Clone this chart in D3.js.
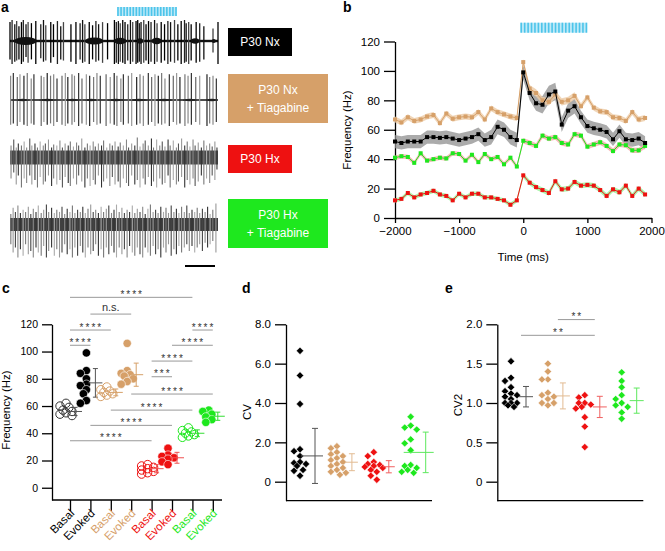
<!DOCTYPE html>
<html><head><meta charset="utf-8">
<script src="https://cdn.jsdelivr.net/npm/d3@7"></script>
<style>
body{margin:0;background:#fff}
svg{display:block;font-family:"Liberation Sans",Arial,Helvetica,sans-serif}
</style></head><body>
<svg id="fig" width="665" height="551"></svg>
<script>
// ================= DATA =================
// Panel a: spike traces, [time % of sweep, relative up amplitude, relative down amplitude]
const traceNx = [[0,.9,.8],[1,1,1],[2.3,.8,.9],[3.2,.95,.85],[4.3,.7,.8],[5.5,.9,1],[6.4,1,.9],[7.7,.8,.7],[8.7,.9,.95],[10.3,.85,.8],[12.4,.95,1],[14.8,.8,.75],[16.1,1,.9],[17.2,.75,.85],[19.6,.9,.95],[20.9,.8,.7],[22.8,.95,1],[24.4,.7,.8],[25.7,.9,.85],[29.3,.8,.9],[31.7,.9,1],[33.7,.85,.8],[34.9,1,.95],[36,.8,.9],[38.1,.9,1],[39.7,.75,.8],[41.3,.95,.9],[42.6,.8,.85],[44.5,.9,.95],[46.9,.85,.8],[50.2,1,1],[51.1,.9,.95],[52.1,.95,1],[53,.85,.9],[54.2,1,.95],[55.3,.9,1],[56.6,.8,.85],[57.9,1,1],[59,.9,.9],[60.6,.95,1],[61.4,1,.95],[62.2,.85,.9],[63,.9,1],[64.3,1,.95],[65.4,.8,.85],[66.6,.95,1],[67.8,.9,.9],[69.5,1,1],[70.7,.85,.9],[72.7,.9,.95],[74.3,.8,.85],[75.9,.95,1],[77.2,.9,.9],[79.1,1,.95],[80.7,.8,.85],[82.3,.95,1],[83.9,1,.95],[84.7,.85,.9],[85.9,.9,1],[87.1,.8,.85],[89.5,.9,.95],[91.2,.85,.9],[93.2,.7,.8],[97.6,.6,.5],[100,.9,1]];
const traceNxBursts = [[2,13,1],[36,45,.9],[50,56,.8],[61,64,.7],[68,73,.8],[87,91,.7],[97,99,.5]];
const traceNxT = [[.3,.9,.95],[1.6,1,.9],[3.5,.85,1],[4.8,.95,.85],[6.7,.9,.95],[8.3,1,1],[10.2,.8,.9],[11.5,.95,.95],[15,.9,1],[16.3,.85,.85],[17.9,1,.95],[19.5,.9,.9],[21,.95,1],[22.6,.8,.85],[25,.9,.95],[26.6,1,1],[27.8,.85,.9],[29.8,.95,.95],[31,.9,.85],[33,1,1],[34.6,.8,.9],[36.7,.95,.95],[38.3,.9,1],[40.2,.85,.85],[41.8,1,.95],[43.4,.9,.9],[46.2,.95,1],[48.2,.85,.9],[50.1,1,.95],[51.4,.9,1],[53.3,.8,.85],[54.5,.95,.95],[56.9,.9,.9],[58.5,1,1],[60.9,.85,.95],[62.5,.95,.9],[64.1,.9,1],[66.5,1,.95],[68.1,.85,.85],[69.7,.95,1],[71.3,.9,.9],[72.9,1,.95],[74.5,.8,.9],[76.6,.95,1],[78.5,.9,.85],[80.1,1,.95],[81.7,.85,.9],[84.1,.95,1],[85.6,.9,.9],[87.2,1,.95],[89.3,.85,.85],[91.2,.9,.95],[94.7,.95,1],[96,.85,.9],[97.6,.9,.95],[99.2,.8,.85]];
const traceNxTBursts = [[3,9,.5],[14,22,.5],[27,33,.5],[36,42,.5],[47,55,.5],[58,66,.5],[70,78,.5],[83,90,.5],[95,99,.5]];
const traceHx = [[.5,.6,.7],[1.8,.9,.5],[3,.5,.9],[4,.7,.6],[5.5,.6,1],[6.8,.8,.7],[8,.5,.85],[9.5,.95,.6],[10.5,.6,.9],[12,.7,.75],[13.2,.5,1],[14.5,.8,.65],[16,.6,.9],[17,.7,.8],[18.5,.9,.6],[20,.5,.95],[21,.65,.7],[22.5,.6,.9],[24,.85,.75],[25.2,.5,1],[26.5,.7,.65],[28,.6,.85],[29,.8,.95],[30.5,.55,.7],[32,.75,.9],[33,.6,.6],[34.5,.95,.8],[36,.5,1],[37.2,.7,.7],[38.5,.6,.95],[40,.8,.75],[41,.55,.9],[42.5,.7,.6],[44,.6,1],[45,.85,.8],[46.5,.5,.7],[48,.7,.95],[49.2,.6,.65],[50.5,.8,.9],[52,.55,.8],[53,.75,1],[54.5,.6,.7],[56,.9,.85],[57,.5,.95],[58.5,.7,.6],[60,.6,.9],[61.2,1,.75],[62.5,.55,1],[64,.7,.7],[65,.85,.9],[66.5,.6,.65],[68,.95,.95],[69,.5,.8],[70.5,.9,1],[72,.6,.7],[73.2,.8,.9],[74.5,.55,.85],[76,.9,.6],[77,.6,1],[78.5,.85,.75],[80,.5,.9],[81,.7,.8],[82.5,.95,.65],[84,.6,1],[85.2,.8,.75],[86.5,.55,.9],[88,.9,.7],[89,.6,.95],[90.5,.75,.8],[92,.5,.6],[93.2,.85,.9],[94.5,.6,.7],[96,.7,.85],[97.2,.55,.6],[98.5,.8,.75],[99.5,.5,.4]];
const traceHxT = [[.4,.5,.6],[1.5,.8,.85],[2.6,.6,.7],[3.8,.9,1],[5,.55,.75],[6.3,.7,.95],[7.5,.6,.6],[8.8,.85,.9],[10,.5,.8],[11.2,.75,1],[12.5,.6,.7],[13.6,.9,.85],[15,.55,.95],[16.2,.7,.65],[17.5,.95,1],[18.6,.6,.8],[20,.8,.7],[21.3,.55,.95],[22.5,.7,.75],[23.8,.6,1],[25,.85,.85],[26.3,.5,.6],[27.5,.75,.9],[28.8,.6,.75],[30,.9,1],[31.2,.55,.7],[32.5,.7,.95],[33.8,.6,.65],[35,.85,.85],[36.2,.55,1],[37.5,.75,.7],[38.8,.95,.9],[40,.6,.8],[41.2,.7,.6],[42.5,.55,.95],[43.8,.85,.75],[45,.6,1],[46.3,.75,.7],[47.5,.9,.9],[48.8,.55,.65],[50,.7,.85],[51.2,.95,1],[52.5,.6,.7],[53.8,.8,.9],[55,.55,.75],[56.3,.7,1],[57.5,.6,.65],[58.8,.9,.85],[60,.55,.95],[61.2,.75,.7],[62.5,.6,.9],[63.8,.85,1],[65,.5,.7],[66.3,.75,.85],[67.5,.95,.95],[68.8,.6,.65],[70,.7,.9],[71.2,.55,.75],[72.5,.85,1],[73.8,.6,.7],[75,.8,.85],[76.2,.55,.6],[77.5,.9,.95],[78.8,.6,.75],[80,.75,.9],[81.2,.55,.65],[82.5,.85,.85],[83.8,.6,.7],[85,.9,.6],[86.2,.55,.8],[87.5,.7,.65],[88.8,.6,.85],[90,.8,.7],[91.2,.55,.6],[92.5,.75,.8],[93.8,.6,.55],[95,.85,.7],[96.2,.5,.6],[97.5,.7,.5],[99,1,.85]];
const traceLabels = [["P30 Nx"],["P30 Nx","+ Tiagabine"],["P30 Hx"],["P30 Hx","+ Tiagabine"]];

// Panel b: PSTH, 100-ms bins
const timeMs = [-2000,-1900,-1800,-1700,-1600,-1500,-1400,-1300,-1200,-1100,-1000,-900,-800,-700,-600,-500,-400,-300,-200,-100,0,100,200,300,400,500,600,700,800,900,1000,1100,1200,1300,1400,1500,1600,1700,1800,1900];
const nxMean  = [52,51,52,52,52,55,55,54.5,55,54,53,54,55,57,53,55,62,60,55,53,99,85,78,77,84,86,63.5,73,76,68.5,62.5,61,60,58.5,53.5,59,53.5,53,54,51];
const nxSem   = [4.5,4.5,4.5,4.5,4.5,4.5,4.5,4.5,4.5,4.5,4.5,4.5,4.5,4.5,4.5,5,5,5,5,5,5,5,5,6,6,6,5,5,5,4.5,4.5,4.5,4.5,4.5,4.5,4.5,4.5,4.5,4.5,4.5];
const nxTMean = [67,65,68.5,66,67,69,70,64.5,71,67.5,68.5,69,68.5,72,67,74.5,72,70.5,69,68,106,88,85,80,79,84,79,80,83,76,82,75,72.5,72,68.5,68,66,72,67,68];
const nxTSem  = [2,2,2,2,2,2,2,2,2,2,2,2,2,2,2,2,2,2,2,2,2,2.5,2.5,2.5,2.5,2.5,2.5,2.5,2.5,2,2,2,2,2,2,2,2,2,2,2];
const hxTMean = [41,42,41.5,37.5,44,39,40,41,40.5,44,43.5,39,43,38,43.5,40,41.5,36.5,41,35,52.5,51,49,56,54,55,51,50,57,56,48.5,50,51.5,49,45.5,50,49.5,46,46,49];
const hxTSem  = [1.5,1.5,1.5,1.5,1.5,1.5,1.5,1.5,1.5,1.5,1.5,1.5,1.5,1.5,1.5,1.5,1.5,1.5,1.5,1.5,1.8,1.8,1.8,1.8,1.8,1.8,1.8,1.8,1.8,1.8,1.8,1.8,1.8,1.8,1.8,1.8,1.8,1.8,1.8,1.8];
const hxMean  = [12,13,17,14,16,17,18.5,16,15,12,16.5,14,16.5,16.5,14,14,13,12,9,12,29,24,21,19,17,25,19.5,20,24.5,22,22.5,22,19,15,19.5,17.5,22,15,20,16];
const hxSem   = [1.5,1.5,1.5,1.5,1.5,1.5,1.5,1.5,1.5,1.5,1.5,1.5,1.5,1.5,1.5,1.5,1.5,1.5,1.5,1.5,1.8,1.8,1.8,1.8,1.8,1.8,1.8,1.8,1.8,1.8,1.8,1.8,1.8,1.8,1.8,1.8,1.8,1.8,1.8,1.8];
const stimMs = [0, 1000];

// Panel c: firing frequency (Hz)
const freqCats = ["Basal","Evoked","Basal","Evoked","Basal","Evoked","Basal","Evoked"];
const freqNxBasal   = [62,60,59,57,56,55,54,53];
const freqNxEvoked  = [99,86,84,80,76,75,72,69,64,62];
const freqNxTBasal  = [74,72,71,70,69,68,67];
const freqNxTEvoked = [106,86,84,83,82,80,78,76];
const freqHxBasal   = [17,15,14,13,12,11,10,16];
const freqHxEvoked  = [29,24,23,22,21,19,17];
const freqHxTBasal  = [44,42,41,40,39,38,37];
const freqHxTEvoked = [57,56,54,52,50,48];
const freqMean = [56,77,70,83,14,22,40,52.5];
const freqSD   = [3,10.5,2.5,8.5,3,4,2.5,3];
// significance bars: [from category, to category, label, height (Hz)]
const freqSig = [[0,6,"****",139.8],[1,3,"n.s.",127.5],[0,2,"****",115.8],[6,7,"****",115.8],[0,1,"****",104.6],[5,7,"****",104.6],[4,6,"****",93],[4,5,"***",81.5],[3,7,"****",68.8],[2,6,"****",57],[1,5,"****",45.8],[0,4,"****",34.5]];

// Panel d: CV
const cvNx   = [6.65,5.4,3.95,1.65,1.55,1.3,1.0,0.95,0.9,0.8,0.6,0.55,0.3];
const cvNxT  = [1.8,1.7,1.5,1.4,1.3,1.2,1.1,1.0,0.9,0.8,0.7,0.6,0.5,0.45,0.35];
const cvHx   = [1.5,1.3,1.0,0.9,0.85,0.8,0.75,0.7,0.6,0.5,0.3,0.1];
const cvHxT  = [3.3,2.85,2.75,2.65,2.15,1.95,1.6,0.85,0.8,0.7,0.6,0.5,0.45];
const cvMean = [1.31,0.99,0.76,1.49];
const cvSD   = [1.4,0.43,0.31,1.03];

// Panel e: CV2
const cv2Nx  = [1.53,1.32,1.28,1.2,1.15,1.12,1.1,1.08,1.05,1.0,1.0,1.0,0.97,0.95];
const cv2NxT = [1.5,1.4,1.3,1.3,1.13,1.1,1.08,1.05,1.0,1.0,0.97];
const cv2Hx  = [1.1,1.07,1.0,1.0,0.98,0.95,0.93,0.82,0.7,0.44];
const cv2HxT = [1.39,1.28,1.2,1.1,1.05,1.0,0.97,0.95,0.88,0.8];
const cv2Mean = [1.08,1.09,0.95,1.03];
const cv2SD   = [0.13,0.165,0.135,0.16];
const cv2Sig = [[1,2,"**",2.06],[0,2,"**",1.86]];

// ================= STYLE =================
const FONT = '"Liberation Sans", Arial, Helvetica, sans-serif';
const COL = {nx:"#000000", nxT:"#d6a069", hx:"#ee1111", hxT:"#1ee81e"};
const groupCol = [COL.nx, COL.nxT, COL.hx, COL.hxT];
const errCol = ["#555555","#e2bb92","#f06060","#5ee85e"];
const bandCol = ["#8f8f8f","#eccaa5","#96f196","#f6a8a8"];
const STIM = "#4cc4ea";
const svg = d3.select("#fig");
const numFmt = d => d < 0 ? "\u2212" + (-d) : String(d);

function styleAxis(g, fs){
  g.selectAll("path.domain").attr("stroke","#000").attr("stroke-width",1.3);
  g.selectAll(".tick line").attr("stroke","#000").attr("stroke-width",1.3);
  g.selectAll(".tick text").attr("fill","#000").attr("font-size",fs).attr("font-family",FONT);
}
function panelLabel(t,x,y){
  svg.append("text").attr("x",x).attr("y",y).text(t)
    .attr("font-size",14).attr("font-weight","bold").attr("font-family",FONT);
}
function stimBar(x0,x1,y,h){
  const g = svg.append("g");
  const s = d3.scaleLinear().domain([0,19]).range([x0+1,x1-1]);
  g.append("rect").attr("x",x0).attr("y",y).attr("width",x1-x0).attr("height",h).attr("fill","#bfeaf8");
  g.selectAll("line").data(d3.range(20)).join("line")
    .attr("x1",d=>s(d)).attr("x2",d=>s(d)).attr("y1",y).attr("y2",y+h)
    .attr("stroke",STIM).attr("stroke-width",1.6);
}
// compact deterministic beeswarm: returns offsets (px) for values
function swarm(vals, yScale, minDist, step, maxK){
  const idx = vals.map((v,i)=>i).sort((a,b)=>vals[b]-vals[a]);
  const placed = []; const off = new Array(vals.length).fill(0);
  idx.forEach(i=>{
    const y = yScale(vals[i]);
    let best = 0, bestD = -1;
    for(let k=0;k<=2*maxK;k++){
      const o = (k%2===0?1:-1)*Math.ceil(k/2)*step;
      const dmin = placed.length ? d3.min(placed,p=>Math.hypot(p[0]-o,p[1]-y)) : 1e9;
      if(dmin>=minDist){best=o;bestD=1e9;break;}
      if(dmin>bestD){bestD=dmin;best=o;}
    }
    off[i]=best; placed.push([best,y]);
  });
  return off;
}

// ================= PANEL A =================
panelLabel("a",1,12);
stimBar(117,177,7,9);
const tx = d3.scaleLinear().domain([0,100]).range([10,218]);
const traces = [
  {sp:traceNx,  bursts:traceNxBursts,  cy:41,    up:21, dn:23, band:1.2, bw:4,   sw:1.3, pal:["#000","#222","#111","#444","#000"], bandFill:"#111"},
  {sp:traceNxT, bursts:traceNxTBursts, cy:100,   up:27, dn:26, band:0.8, bw:2.4, sw:1.2, pal:["#888","#333","#666","#999","#222","#777"], bandFill:"#222"},
  {sp:traceHx,  bursts:[],             cy:157.5, up:20, dn:30, band:7,   bw:0,   sw:1.1, pal:["#888","#555","#999","#333","#777","#aaa"], bandFill:"#4a4a4a"},
  {sp:traceHxT, bursts:[],             cy:224.5, up:21, dn:33, band:6.5, bw:0,   sw:1.1, pal:["#777","#999","#444","#888","#333","#aaa"], bandFill:"#3d3d3d"}
];
traces.forEach(tr=>{
  const g = svg.append("g");
  const ya = d3.scaleLinear().domain([-1,0,1]).range([tr.cy+tr.dn, tr.cy, tr.cy-tr.up]);
  g.append("rect").attr("x",tx(0)).attr("width",tx(100)-tx(0))
    .attr("y",tr.cy-tr.band).attr("height",2*tr.band).attr("fill",tr.bandFill);
  g.selectAll("line.sp").data(tr.sp).join("line").attr("class","sp")
    .attr("x1",d=>tx(d[0])).attr("x2",d=>tx(d[0]))
    .attr("y1",d=>ya(d[1])).attr("y2",d=>ya(-d[2]))
    .attr("stroke",(d,i)=>tr.pal[i%tr.pal.length]).attr("stroke-width",tr.sw);
  g.selectAll("ellipse").data(tr.bursts).join("ellipse")
    .attr("cx",d=>(tx(d[0])+tx(d[1]))/2).attr("cy",tr.cy)
    .attr("rx",d=>(tx(d[1])-tx(d[0]))/2).attr("ry",d=>d[2]*tr.bw)
    .attr("fill",tr.bandFill);
});
// scale bar
svg.append("line").attr("x1",185).attr("x2",215).attr("y1",266).attr("y2",266).attr("stroke","#000").attr("stroke-width",2);
// label boxes
const boxes = [{x:228,y:28,w:64,h:28},{x:228,y:74,w:100,h:49},{x:228,y:145,w:64,h:28},{x:228,y:199,w:100,h:49}];
boxes.forEach((b,i)=>{
  svg.append("rect").attr("x",b.x).attr("y",b.y).attr("width",b.w).attr("height",b.h).attr("fill",groupCol[i]);
  const lines = traceLabels[i];
  lines.forEach((t,j)=>{
    svg.append("text").attr("x",b.x+b.w/2).attr("y",b.y+b.h/2 + (j-(lines.length-1)/2)*18)
      .attr("dy","0.35em").attr("text-anchor","middle").attr("fill","#fff")
      .attr("font-size",12).attr("font-family",FONT).text(t);
  });
});

// ================= PANEL B =================
panelLabel("b",343,12);
const xB = d3.scaleLinear().domain([-2000,2000]).range([395,651.5]);
const yB = d3.scaleLinear().domain([0,120]).range([218,41.5]);
stimBar(xB(stimMs[0])-3, xB(stimMs[1]), 22.7, 10);
const gbY = svg.append("g").attr("transform","translate(395,0)")
  .call(d3.axisLeft(yB).tickValues([0,20,40,60,80,100,120]).tickSize(11).tickPadding(4).tickSizeOuter(0));
styleAxis(gbY,11.5);
const gbX = svg.append("g").attr("transform","translate(0,218)")
  .call(d3.axisBottom(xB).tickValues([-2000,-1000,0,1000,2000]).tickFormat(numFmt).tickSize(5).tickPadding(4).tickSizeOuter(0));
styleAxis(gbX,11.5);
svg.append("text").attr("x",xB(0)).attr("y",261).attr("text-anchor","middle").attr("font-size",11.5).text("Time (ms)");
svg.append("text").attr("transform","translate(351,130) rotate(-90)").attr("text-anchor","middle").attr("font-size",11.5).text("Frequency (Hz)");
const seriesB = [
  {m:nxMean, s:nxSem, i:0},{m:nxTMean, s:nxTSem, i:1},{m:hxTMean, s:hxTSem, i:3},{m:hxMean, s:hxSem, i:2}
];
const area = (m,s)=>d3.area().x((d,k)=>xB(timeMs[k])).y0((d,k)=>yB(m[k]-s[k])).y1((d,k)=>yB(m[k]+s[k]))(m);
const lineB = m=>d3.line().x((d,k)=>xB(timeMs[k])).y(d=>yB(d))(m);
seriesB.forEach(S=>{
  svg.append("path").attr("d",area(S.m,S.s)).attr("fill",bandCol[S.i]).attr("opacity",S.i===0?0.75:0.8);
});
[seriesB[1],seriesB[2],seriesB[3],seriesB[0]].forEach(S=>{
  svg.append("path").attr("d",lineB(S.m)).attr("fill","none").attr("stroke",groupCol[S.i]).attr("stroke-width",1);
  svg.append("g").selectAll("rect").data(S.m).join("rect")
    .attr("x",(d,k)=>xB(timeMs[k])-2).attr("y",d=>yB(d)-2).attr("width",4).attr("height",4)
    .attr("fill",groupCol[S.i]);
});

// ================= PANEL C =================
panelLabel("c",2,293);
const yC = d3.scaleLinear().domain([-9,120]).range([500,324.3]);
const xC = d3.scalePoint().domain(d3.range(8)).range([70,212.8]);
const gcY = svg.append("g").attr("transform","translate(52,0)")
  .call(d3.axisLeft(yC).tickValues([0,20,40,60,80,100,120]).tickSize(10).tickPadding(4).tickSizeOuter(0));
styleAxis(gcY,10.5);
const gcX = svg.append("g").attr("transform","translate(0,500)")
  .call(d3.axisBottom(xC).tickSize(11).tickFormat(""));
styleAxis(gcX,10);
gcX.select("path.domain").remove();
svg.append("line").attr("x1",52).attr("x2",222).attr("y1",500).attr("y2",500).attr("stroke","#000").attr("stroke-width",1.3);
svg.append("text").attr("transform","translate(10,410) rotate(-90)").attr("text-anchor","middle").attr("font-size",11.5).text("Frequency (Hz)");
const catCol = [COL.nx,COL.nx,COL.nxT,COL.nxT,COL.hx,COL.hx,COL.hxT,COL.hxT];
freqCats.forEach((t,i)=>{
  svg.append("text").attr("transform",`translate(${xC(i)+5},514) rotate(-45)`).attr("text-anchor","end")
    .attr("font-size",11.5).attr("fill",catCol[i]).text(t);
});
// significance
freqSig.forEach(s=>{
  const x1 = xC(s[0]), x2 = xC(s[1]), y = yC(s[3]);
  svg.append("line").attr("x1",x1).attr("x2",x2).attr("y1",y).attr("y2",y).attr("stroke","#999").attr("stroke-width",1);
  const ns = s[2]==="n.s.";
  svg.append("text").attr("x",(x1+x2)/2+(ns?0:1)).attr("y",ns?y-3.5:y+0.5).attr("text-anchor","middle")
    .attr("font-size",ns?11:10).attr("letter-spacing",ns?0:2).attr("fill","#333").text(s[2]);
});
const freqGroups = [freqNxBasal,freqNxEvoked,freqNxTBasal,freqNxTEvoked,freqHxBasal,freqHxEvoked,freqHxTBasal,freqHxTEvoked];
const errColC = ["#555","#555",COL.nxT,COL.nxT,"#f05050","#f05050","#33dd33","#33dd33"];
freqGroups.forEach((vals,i)=>{
  const off = swarm(vals,yC,5,3,2);
  const cx = xC(i)-4, open = i%2===0;
  svg.append("g").selectAll("circle").data(vals).join("circle")
    .attr("cx",(d,k)=>cx+off[k]).attr("cy",d=>yC(d)).attr("r",4.2)
    .attr("fill",open?"none":catCol[i])
    .attr("stroke",open?(i===0?"#333":catCol[i]):"#fff").attr("stroke-width",open?1:0.6);
  const ex = xC(i)+5, m = freqMean[i], sd = freqSD[i];
  const g = svg.append("g").attr("stroke",errColC[i]).attr("stroke-width",1);
  g.append("line").attr("x1",ex).attr("x2",ex).attr("y1",yC(m-sd)).attr("y2",yC(m+sd));
  g.append("line").attr("x1",ex-2.5).attr("x2",ex+2.5).attr("y1",yC(m-sd)).attr("y2",yC(m-sd));
  g.append("line").attr("x1",ex-2.5).attr("x2",ex+2.5).attr("y1",yC(m+sd)).attr("y2",yC(m+sd));
  g.append("line").attr("x1",ex-7).attr("x2",ex+7).attr("y1",yC(m)).attr("y2",yC(m));
});

// ================= PANELS D & E =================
function diamondPanel(opt){
  const y = d3.scaleLinear().domain(opt.domain).range([500.7,324.3]);
  const x = d3.scaleLinear().domain([0,3]).range([opt.c0, opt.c0+3*36.9]);
  const gy = svg.append("g").attr("transform",`translate(${opt.ax},0)`)
    .call(d3.axisLeft(y).tickValues(opt.ticks).tickFormat(opt.fmt).tickSize(11).tickPadding(4).tickSizeOuter(0));
  styleAxis(gy,11.5);
  svg.append("line").attr("x1",opt.ax).attr("x2",opt.ax+146).attr("y1",500.7).attr("y2",500.7).attr("stroke","#000").attr("stroke-width",1.3);
  svg.append("text").attr("transform",`translate(${opt.ylx},${opt.yly}) rotate(-90)`).attr("text-anchor","middle").attr("font-size",11.5).text(opt.ylabel);
  (opt.sig||[]).forEach(s=>{
    const x1 = x(s[0])+10, x2 = x(s[1])+10, yy = y(s[3]);
    svg.append("line").attr("x1",x1).attr("x2",x2).attr("y1",yy).attr("y2",yy).attr("stroke","#999").attr("stroke-width",1);
    svg.append("text").attr("x",(x1+x2)/2+1).attr("y",yy+0.5).attr("text-anchor","middle").attr("font-size",10).attr("letter-spacing",2).attr("fill","#333").text(s[2]);
  });
  opt.groups.forEach((vals,i)=>{
    const off = swarm(vals,y,5,3,3);
    svg.append("g").selectAll("path").data(vals).join("path")
      .attr("d",d3.symbol(d3.symbolSquare,27)())
      .attr("transform",(d,k)=>`translate(${x(i)+off[k]},${y(d)}) rotate(45)`)
      .attr("fill",groupCol[i]).attr("stroke","#fff").attr("stroke-width",0.5);
    const ex = x(i)+15, m = opt.mean[i], sd = opt.sd[i];
    const g = svg.append("g").attr("stroke",errCol[i]).attr("stroke-width",1);
    g.append("line").attr("x1",ex).attr("x2",ex).attr("y1",y(m-sd)).attr("y2",y(m+sd));
    g.append("line").attr("x1",ex-3).attr("x2",ex+3).attr("y1",y(m-sd)).attr("y2",y(m-sd));
    g.append("line").attr("x1",ex-3).attr("x2",ex+3).attr("y1",y(m+sd)).attr("y2",y(m+sd));
    const hw = opt.meanW[i];
    g.append("line").attr("x1",ex-hw[0]).attr("x2",ex+hw[1]).attr("y1",y(m)).attr("y2",y(m));
  });
}
panelLabel("d",242,293);
diamondPanel({domain:[-0.966,8], ticks:[0,2,4,6,8], fmt:d=>d===0?"0":d3.format(".1f")(d), ax:286, c0:300,
  ylabel:"CV", ylx:251, yly:412, groups:[cvNx,cvNxT,cvHx,cvHxT], mean:cvMean, sd:cvSD,
  meanW:[[14,8],[6,6],[6,6],[22,8]]});
panelLabel("e",445,293);
diamondPanel({domain:[-0.2415,2], ticks:[0,0.5,1,1.5,2], fmt:d=>d===0?"0":d3.format(".1f")(d), ax:497.3, c0:511,
  ylabel:"CV2", ylx:462, yly:405, groups:[cv2Nx,cv2NxT,cv2Hx,cv2HxT], mean:cv2Mean, sd:cv2SD, sig:cv2Sig,
  meanW:[[7,7],[7,7],[7,7],[7,7]]});
</script>
</body></html>
